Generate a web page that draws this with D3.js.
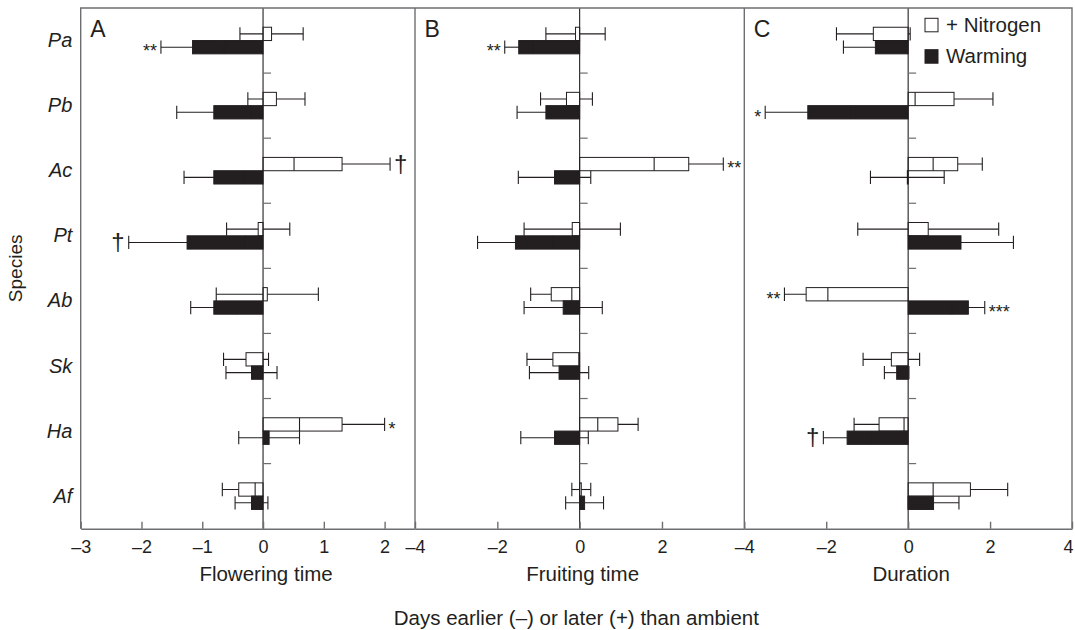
<!DOCTYPE html>
<meta charset='utf-8'>
<style>

body { margin: 0; background: #fff; }
svg text { font-family: 'Liberation Sans', Arial, sans-serif; fill: #231f20; }
.frame { fill: none; stroke: #6d6e71; stroke-width: 1.4; }
.axis path, .axis line { stroke: #6d6e71; stroke-width: 1.4; }
.axis text { font-size: 18px; }
.err line { stroke: #231f20; stroke-width: 1.1; }
.bar { stroke: #231f20; stroke-width: 1; }
.zero { stroke: #231f20; stroke-width: 1.1; }
.sep { stroke: #6d6e71; stroke-width: 1.2; }

</style>
<script src='https://cdn.jsdelivr.net/npm/d3@7'></script>
<script>
window.onload = () => {
'use strict'

// Data - shift in days vs ambient, bar = mean, whisker = +/- error

let species = ['Pa', 'Pb', 'Ac', 'Pt', 'Ab', 'Sk', 'Ha', 'Af'],
	panel_names = ['Flowering time', 'Fruiting time', 'Duration'],
	panel_letters = ['A', 'B', 'C'],
	panel_domains = [[-3, 2.5], [-4, 4], [-4, 4]],
	panel_ticks = [[-3, -2, -1, 0, 1, 2], [-4, -2, 0, 2], [-4, -2, 0, 2, 4]]

let flower_n = [0.14, 0.22, 1.30, -0.08, 0.07, -0.28, 1.30, -0.40],
	flower_n_err = [0.52, 0.47, 0.79, 0.52, 0.84, 0.37, 0.70, 0.27],
	flower_w = [-1.16, -0.81, -0.81, -1.25, -0.81, -0.19, 0.10, -0.19],
	flower_w_err = [0.52, 0.61, 0.49, 0.96, 0.38, 0.42, 0.50, 0.27],
	fruit_n = [-0.10, -0.32, 2.65, -0.18, -0.69, -0.65, 0.93, 0.04],
	fruit_n_err = [0.72, 0.63, 0.84, 1.17, 0.50, 0.63, 0.49, 0.23],
	fruit_w = [-1.48, -0.82, -0.61, -1.56, -0.40, -0.50, -0.61, 0.12],
	fruit_w_err = [0.34, 0.70, 0.88, 0.92, 0.95, 0.72, 0.82, 0.46],
	dur_n = [-0.85, 1.12, 1.21, 0.49, -2.49, -0.41, -0.71, 1.52],
	dur_n_err = [0.90, 0.95, 0.60, 1.72, 0.53, 0.69, 0.61, 0.91],
	dur_w = [-0.80, -2.45, -0.02, 1.29, 1.47, -0.28, -1.49, 0.62],
	dur_w_err = [0.78, 1.04, 0.90, 1.28, 0.40, 0.30, 0.58, 0.62]

// [panel, species, series, label]
let signif = [
	['A', 'Pa', 'w', '**'], ['A', 'Ac', 'n', '†'], ['A', 'Pt', 'w', '†'], ['A', 'Ha', 'n', '*'],
	['B', 'Pa', 'w', '**'], ['B', 'Ac', 'n', '**'],
	['C', 'Pb', 'w', '*'], ['C', 'Ab', 'n', '**'], ['C', 'Ab', 'w', '***'], ['C', 'Ha', 'w', '†'] ]

let series = ['n', 'w'],
	legend_labels = ['+ Nitrogen', 'Warming'],
	panel_data = [
		{n: flower_n, n_err: flower_n_err, w: flower_w, w_err: flower_w_err},
		{n: fruit_n, n_err: fruit_n_err, w: fruit_w, w_err: fruit_w_err},
		{n: dur_n, n_err: dur_n_err, w: dur_w, w_err: dur_w_err} ]


// Layout

let W = 1075, H = 630,
	top = 8, bottom = 528.7,
	edges = [80.7, 415, 744.3, 1072],
	bar_h = 13.3,
	fill = {n: '#fff', w: '#231f20'},
	fmt = d => d < 0 ? `–${-d}` : `${d}`

let svg = d3.select('body').append('svg').attr('width', W).attr('height', H)

let y = d3.scaleBand(species, [top, bottom]),
	sub = d3.scaleBand(series, [-bar_h, bar_h])

panel_letters.forEach((letter, i) => {
	let x = d3.scaleLinear(panel_domains[i], [edges[i], edges[i + 1]]),
		pd = panel_data[i],
		rows = species.flatMap((sp, j) => series.map(s => ({
			sp, s, v: pd[s][j], e: pd[s + '_err'][j],
			cy: y(sp) + y.bandwidth() / 2 + sub(s) + bar_h / 2 }))),
		g = svg.append('g')

	// whisker lines go under the bars, caps on top
	g.append('g').attr('class', 'err').selectAll('line').data(rows).join('line')
		.attr('x1', d => x(d.v - d.e)).attr('x2', d => x(d.v + d.e))
		.attr('y1', d => d.cy).attr('y2', d => d.cy)

	g.append('g').selectAll('rect').data(rows).join('rect')
		.attr('class', 'bar')
		.attr('x', d => x(Math.min(0, d.v)))
		.attr('width', d => Math.abs(x(d.v) - x(0)))
		.attr('y', d => d.cy - bar_h / 2).attr('height', bar_h)
		.attr('fill', d => fill[d.s])

	g.append('g').attr('class', 'err').selectAll('line')
		.data(rows.flatMap(d => [[d, d.v - d.e], [d, d.v + d.e]])).join('line')
		.attr('x1', ([, v]) => x(v)).attr('x2', ([, v]) => x(v))
		.attr('y1', ([d]) => d.cy - bar_h / 2).attr('y2', ([d]) => d.cy + bar_h / 2)

	// zero line with species separators
	g.append('line').attr('class', 'zero')
		.attr('x1', x(0)).attr('x2', x(0)).attr('y1', top).attr('y2', bottom)
	g.append('g').selectAll('line').data(species.slice(1)).join('line')
		.attr('class', 'sep')
		.attr('x1', x(0)).attr('x2', x(0) + 8)
		.attr('y1', d => y(d)).attr('y2', d => y(d))

	g.append('g').attr('class', 'axis')
		.attr('transform', `translate(0,${bottom})`)
		.call(d3.axisBottom(x).tickValues(panel_ticks[i]).tickFormat(fmt)
			.tickSizeInner(-7).tickSizeOuter(0).tickPadding(11.2))
		.call(s => s.selectAll('text').attr('fill', '#231f20')
			// last label sits on the page edge, nudge it in
			.attr('dx', d => x(d) > W - 8 ? -4 : 0))

	g.append('text').attr('x', x(0) + 3).attr('y', 581)
		.attr('text-anchor', 'middle').style('font-size', '20.5px').text(panel_names[i])

	g.append('text').attr('x', edges[i] + 9.5).attr('y', 36.7)
		.style('font-size', '23px').text(letter)

	// significance marks, placed outside the whisker
	g.append('g').selectAll('text')
		.data(signif.filter(d => d[0] == letter).map(([, sp, s, lab]) => {
			let r = rows.find(d => d.sp == sp && d.s == s)
			return {r, lab, side: r.v < 0 ? -1 : 1} }))
		.join('text')
		.attr('x', d => d.side > 0 ? x(d.r.v + d.r.e) + 4 : x(d.r.v - d.r.e) - 4)
		.attr('y', d => d.r.cy + (d.lab == '†' ? 7.5 : 10.3))
		.attr('text-anchor', d => d.side > 0 ? 'start' : 'end')
		.style('font-size', d => d.lab == '†' ? '24px' : '18px')
		.text(d => d.lab)
})

// Frame

svg.append('path').attr('class', 'frame')
	.attr('d', `M${edges[0]},${bottom}V${top}H${edges[3]}V${bottom}`)
svg.append('g').selectAll('line').data(edges.slice(1, 3)).join('line')
	.attr('class', 'frame')
	.attr('x1', d => d).attr('x2', d => d).attr('y1', top).attr('y2', bottom)

// Species labels

svg.append('g').selectAll('text').data(species).join('text')
	.attr('x', 72.3).attr('y', d => y(d) + y.bandwidth() / 2)
	.attr('dy', '0.33em').attr('text-anchor', 'end')
	.style('font-size', '20px').style('font-style', 'italic')
	.text(d => d)

svg.append('text')
	.attr('transform', `translate(22,${(top + bottom) / 2}) rotate(-90)`)
	.attr('text-anchor', 'middle').style('font-size', '19px').text('Species')

svg.append('text').attr('x', (edges[0] + edges[3]) / 2).attr('y', 625)
	.attr('text-anchor', 'middle').style('font-size', '20.5px')
	.text('Days earlier (–) or later (+) than ambient')

// Legend

let leg = svg.append('g').selectAll('g').data(series).join('g')
	.attr('transform', (d, i) => `translate(925,${18.3 + i * 31.4})`)
leg.append('rect').attr('width', 13).attr('height', 13.5)
	.attr('fill', d => fill[d]).attr('stroke', '#231f20').attr('stroke-width', 1)
leg.append('text').attr('x', 21).attr('y', 13.4)
	.style('font-size', '20.5px').text((d, i) => legend_labels[i])

}
</script>
